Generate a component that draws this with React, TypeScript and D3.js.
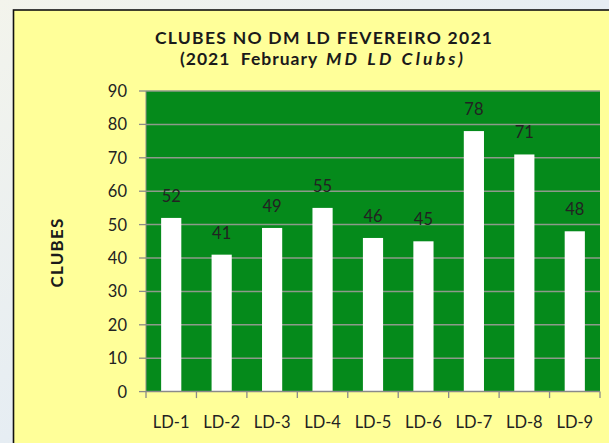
import React from "react";
import * as d3 from "d3";

const categories = ["LD-1", "LD-2", "LD-3", "LD-4", "LD-5", "LD-6", "LD-7", "LD-8", "LD-9"];
const clubs = [52, 41, 49, 55, 46, 45, 78, 71, 48];
const yTicks = [0, 10, 20, 30, 40, 50, 60, 70, 80, 90];
const titleLine1 = "CLUBES NO DM LD FEVEREIRO 2021";
const titleLine2a = "(2021  February ";
const titleLine2b = "MD LD Clubs)";
const yTitle = "CLUBES";

const W = 609;
const H = 443;
const plot = { left: 146, right: 600, top: 91, bottom: 391.6 };
const FONT = "Lato, 'Open Sans', sans-serif";

export default function App() {
  const x = d3
    .scaleBand<string>()
    .domain(categories)
    .range([plot.left, plot.right])
    .paddingInner(0.6)
    .paddingOuter(0.3);
  const step = (plot.right - plot.left) / categories.length;
  const y = d3.scaleLinear().domain([0, 90]).range([plot.bottom, plot.top]);

  return (
    <svg
      width={W}
      height={H}
      style={{ position: "absolute", left: 0, top: 0, display: "block" }}
      fontFamily={FONT}
    >
      <defs>
        <linearGradient id="bg" x1="0" y1="0" x2="1" y2="1">
          <stop offset="0" stopColor="#f3f4ec" />
          <stop offset="0.5" stopColor="#e6edf3" />
          <stop offset="1" stopColor="#dfe7ef" />
        </linearGradient>
      </defs>
      <rect x={0} y={0} width={W} height={H} fill="url(#bg)" />
      <rect x={13.5} y={10} width={W} height={H} fill="#ffff99" stroke="#111" strokeWidth={1.6} />

      {/* plot area */}
      <rect
        x={plot.left}
        y={plot.top}
        width={plot.right - plot.left}
        height={plot.bottom - plot.top}
        fill="#058a1b"
      />
      {yTicks.map((t) => (
        <g key={t}>
          {t > 0 && (
            <line x1={plot.left} x2={plot.right} y1={y(t)} y2={y(t)} stroke="#8d9a8a" strokeWidth={1.5} />
          )}
          <line x1={plot.left - 7} x2={plot.left} y1={y(t)} y2={y(t)} stroke="#8a8a8a" strokeWidth={1.3} />
          <text
            x={plot.left - 19}
            y={y(t)}
            dy="0.36em"
            textAnchor="end"
            fontSize={16.5}
            fill="#222"
          >
            {t}
          </text>
        </g>
      ))}

      {/* bars */}
      {categories.map((c, i) => (
        <g key={c}>
          <rect
            x={x(c)!}
            y={y(clubs[i])}
            width={x.bandwidth()}
            height={y(0) - y(clubs[i])}
            fill="#ffffff"
          />
          <text
            x={x(c)! + x.bandwidth() / 2}
            y={y(clubs[i]) - 16}
            textAnchor="middle"
            fontSize={16.5}
            fill="#222"
          >
            {clubs[i]}
          </text>
          <text
            x={plot.left + step * (i + 0.5)}
            y={421.7}
            dy="0.36em"
            textAnchor="middle"
            fontSize={16.5}
            fill="#222"
          >
            {c}
          </text>
        </g>
      ))}

      {/* x axis */}
      <line x1={plot.left} x2={plot.right} y1={plot.bottom} y2={plot.bottom} stroke="#8a8a8a" strokeWidth={1.5} />
      <line x1={plot.left} x2={plot.left} y1={plot.top} y2={plot.bottom} stroke="#8a8a8a" strokeWidth={1} />
      {d3.range(categories.length + 1).map((i) => (
        <line
          key={i}
          x1={plot.left + step * i}
          x2={plot.left + step * i}
          y1={plot.bottom}
          y2={plot.bottom + 6.5}
          stroke="#8a8a8a"
          strokeWidth={1.3}
        />
      ))}

      {/* titles */}
      <text
        x={155}
        y={44}
        fontSize={17.5}
        fontWeight="bold"
        fill="#1a1a1a"
        textLength={337}
        lengthAdjust="spacing"
      >
        {titleLine1}
      </text>
      <text x={180} y={65.3} fontSize={17.5} fontWeight="bold" fill="#1a1a1a" xmlSpace="preserve">
        <tspan textLength={142} lengthAdjust="spacing">{titleLine2a}</tspan>
        <tspan x={326} fontStyle="italic" textLength={137} lengthAdjust="spacing">{titleLine2b}</tspan>
      </text>
      <text
        transform={`translate(63, 252.5) rotate(-90)`}
        textAnchor="middle"
        fontSize={17}
        fontWeight="bold"
        fill="#1a1a1a"
        letterSpacing={1.2}
      >
        {yTitle}
      </text>
    </svg>
  );
}
